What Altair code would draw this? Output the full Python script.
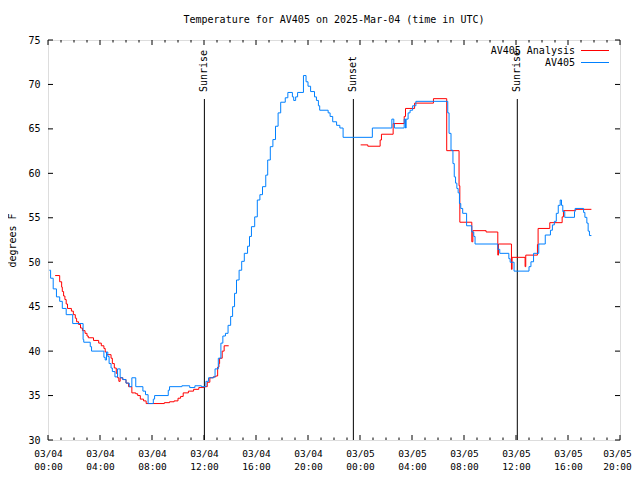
import altair as alt
import pandas as pd

# Hours since 2025-03-04 00:00 UTC (step levels)
blue_hours = [0.1, 0.2, 0.4, 0.65, 0.9, 1.1, 1.4, 1.9, 2.7, 2.75, 3.25, 3.35, 4.3, 4.4, 4.5, 4.6, 4.7,
              4.85, 4.95, 5.15, 5.35, 5.55, 5.75, 6.0, 6.25, 6.45, 6.75, 7.3, 7.5, 7.7, 8.1, 8.2, 9.25,
              9.35, 10.3, 10.9, 11.3, 11.8, 12.15, 12.35, 12.75, 12.85, 13.1, 13.3, 13.45, 13.65, 13.85,
              14.05, 14.2, 14.35, 14.5, 14.7, 14.9, 15.1, 15.35, 15.5, 15.65, 15.9, 16.1, 16.3, 16.5,
              16.75, 16.9, 17.1, 17.3, 17.5, 17.7, 17.9, 18.25, 18.45, 18.8, 18.9, 19.05, 19.2, 19.65,
              19.85, 20.0, 20.2, 20.5, 20.65, 20.8, 20.9, 21.55, 21.7, 21.9, 22.2, 22.45, 22.7, 24.95,
              26.45, 26.6, 26.65, 27.4, 27.5, 27.55, 27.7, 27.85, 28.05, 28.3, 30.75, 30.85, 31.0,
              31.15, 31.25, 31.35, 31.45, 31.55, 31.65, 31.75, 31.9, 32.2, 32.6, 32.75, 32.85, 34.6,
              34.75, 35.45, 35.55, 35.85, 37.0, 37.15, 37.35, 37.75, 38.25, 38.65, 38.8, 38.95, 39.1,
              39.25, 39.4, 39.5, 39.6, 39.75, 40.5, 40.55, 41.2, 41.3, 41.45, 41.55, 41.65, 41.8]
blue_temps = [49.1, 48.2, 47.0, 46.1, 45.6, 44.8, 44.1, 43.1, 41.3, 41.0, 40.5, 40.0, 39.3, 39.0, 39.9,
              39.4, 38.6, 38.1, 37.7, 37.1, 38.0, 37.0, 36.8, 36.4, 36.0, 37.0, 36.0, 35.5, 35.1, 34.1,
              34.6, 35.0, 35.6, 36.0, 36.1, 35.9, 36.1, 36.0, 36.6, 37.0, 37.1, 38.0, 39.2, 40.9, 41.7,
              42.0, 42.9, 43.9, 45.0, 46.5, 48.0, 49.1, 50.1, 51.0, 51.8, 52.9, 54.0, 55.1, 57.0, 57.6,
              58.5, 59.8, 61.5, 63.0, 63.8, 65.3, 66.8, 68.0, 68.5, 69.1, 68.6, 68.2, 68.6, 69.1, 71.0,
              70.3, 69.8, 69.2, 68.6, 68.2, 67.6, 67.1, 66.8, 66.4, 65.8, 65.4, 65.1, 64.05, 65.1,
              66.1, 65.6, 65.1, 66.1, 65.1, 66.1, 66.8, 67.1, 67.6, 68.1, 66.8, 64.5, 62.6,
              61.1, 59.6, 58.9, 58.3, 57.8, 56.6, 56.05, 55.5, 54.1, 53.4, 52.9, 52.05, 51.45,
              51.0, 50.4, 50.0, 49.0, 49.5, 50.05, 51.0, 52.05, 53.06, 53.6, 54.2, 54.6, 55.5,
              56.4, 57.0, 56.4, 55.7, 55.05, 55.7, 56.05, 55.6, 55.05, 54.4, 53.5, 53.0, 53.0]

red1_hours = [0.55, 0.9, 1.05, 1.1, 1.2, 1.3, 1.4, 1.5, 1.8, 1.95, 2.1, 2.2, 2.35, 2.5, 2.65, 2.85, 3.0,
              3.1, 3.5, 3.9, 4.1, 4.3, 4.4, 4.5, 4.85, 4.95, 5.1, 5.25, 5.35, 5.45, 5.55, 5.75, 6.0,
              6.2, 6.45, 6.75, 6.9, 7.1, 7.35, 7.55, 8.95, 9.35, 9.7, 10.0, 10.2, 10.4, 10.8, 11.2,
              11.6, 12.0, 12.25, 12.45, 12.7, 12.9, 13.05, 13.15, 13.2, 13.4, 13.55, 13.9]
red1_temps = [48.5, 47.8, 47.2, 46.7, 46.2, 45.8, 45.3, 44.8, 44.5, 44.1, 43.7, 43.3, 43.0, 42.6, 42.3,
              42.0, 41.7, 41.5, 41.2, 40.9, 40.6, 40.3, 39.9, 39.6, 39.2, 38.6, 38.1, 37.5, 37.0, 36.6,
              37.0, 36.8, 36.4, 36.0, 35.3, 35.2, 35.0, 34.6, 34.4, 34.1, 34.2, 34.3, 34.4, 34.7, 34.9,
              35.3, 35.5, 35.7, 35.9, 36.0, 36.5, 37.0, 37.1, 37.2, 38.2, 38.6, 39.2, 40.0, 40.6, 40.6]

red2_hours = [24.05, 24.6, 25.55, 25.65, 26.55, 27.4, 27.5, 28.2, 29.65, 30.67, 31.62, 31.68, 32.6,
              32.68, 33.7, 34.6, 34.65, 35.65, 35.7, 36.7, 36.75, 37.65, 37.7, 38.6, 39.55, 39.65,
              40.5, 40.6, 41.8]
red2_temps = [63.2, 63.05, 63.75, 64.4, 65.6, 66.4, 67.3, 67.9, 68.4, 62.55, 58.6, 54.5, 52.3,
              53.55, 53.4, 50.8, 52.05, 49.2, 50.55, 49.5, 50.8, 52.0, 53.8, 54.45, 55.1, 55.8,
              55.85, 55.95, 55.95]

event_names = ["Sunrise", "Sunset", "Sunrise"]
event_hours = [12.03, 23.49, 36.1]

series_names = ["AV405 Analysis", "AV405"]
series_colors = ["#ff0000", "#0080ff"]

x_major = list(range(0, 45, 4))
x_minor = [h for h in range(0, 45) if h % 4 != 0]
y_major = list(range(30, 76, 5))

FONT = "DejaVu Sans Mono"
W, H = 572, 400

blue_df = pd.DataFrame({"h": blue_hours, "t": blue_temps})
red_df = pd.concat([
    pd.DataFrame({"h": red1_hours, "t": red1_temps, "seg": "a"}),
    pd.DataFrame({"h": red2_hours, "t": red2_temps, "seg": "b"}),
])
ev_df = pd.DataFrame({"h": event_hours, "name": event_names})
xmaj_df = pd.DataFrame({"h": x_major})
xmin_df = pd.DataFrame({"h": x_minor})
ymaj_df = pd.DataFrame({"t": y_major})

xs = alt.Scale(domain=[0, 44], nice=False, zero=False)
ys = alt.Scale(domain=[30, 75], nice=False, zero=False)

x_axis = alt.Axis(
    values=x_major, ticks=False, domain=False, grid=False, title=None,
    labelFont=FONT, labelFontSize=9.5, labelColor="black", labelPadding=8,
    labelLineHeight=13, labelOverlap=False, labelFlush=False,
    labelOffset={"condition": {"test": "datum.value >= 44", "value": -3}, "value": 0},
    labelExpr="[datum.value < 24 ? '03/04' : '03/05', "
              "(datum.value % 24 < 10 ? '0' : '') + (datum.value % 24) + ':00']",
)
y_axis = alt.Axis(
    values=y_major, ticks=False, domain=False, grid=False, title="degrees F",
    labelFont=FONT, labelFontSize=10, labelColor="black", labelPadding=8,
    titleFont=FONT, titleFontSize=10, titleFontWeight="normal", titleColor="black",
    titleX=-36, titleY=200, titleAngle=270, titleBaseline="middle", titleAlign="center",
)

blue = alt.Chart(blue_df).mark_line(interpolate="step-after", color=series_colors[1], strokeWidth=1).encode(
    x=alt.X("h:Q", scale=xs, axis=x_axis),
    y=alt.Y("t:Q", scale=ys, axis=y_axis),
)
red = alt.Chart(red_df).mark_line(interpolate="step-after", color=series_colors[0], strokeWidth=1).encode(
    x=alt.X("h:Q", scale=xs),
    y=alt.Y("t:Q", scale=ys),
    detail="seg:N",
)

ev_rule = alt.Chart(ev_df).mark_rule(color="black", strokeWidth=1).encode(
    x=alt.X("h:Q", scale=xs), y=alt.value(59), y2=alt.value(H)
)
ev_text = alt.Chart(ev_df).mark_text(angle=270, align="left", baseline="middle", font=FONT,
                                     fontSize=10, color="black").encode(
    x=alt.X("h:Q", scale=xs), y=alt.value(52), text="name:N"
)

def xticks(df, y0, y1):
    return alt.Chart(df).mark_rule(color="black", strokeWidth=1).encode(
        x=alt.X("h:Q", scale=xs), y=alt.value(y0), y2=alt.value(y1))

def yticks(x0, x1):
    return alt.Chart(ymaj_df).mark_rule(color="black", strokeWidth=1).encode(
        y=alt.Y("t:Q", scale=ys), x=alt.value(x0), x2=alt.value(x1))

ticks = [
    xticks(xmaj_df, H, H - 5), xticks(xmin_df, H, H - 2.5),
    xticks(xmaj_df, 0, 5), xticks(xmin_df, 0, 2.5),
    yticks(0, 5), yticks(W, W - 5),
]

legend_layers = []
for i, (name, col) in enumerate(zip(series_names, series_colors)):
    ly = 10.5 + 12 * i
    ldf = pd.DataFrame({"name": [name]})
    legend_layers.append(alt.Chart(ldf).mark_text(align="right", baseline="middle", font=FONT,
                                                  fontSize=10, color="black").encode(
        x=alt.value(527), y=alt.value(ly), text="name:N"))
    legend_layers.append(alt.Chart(ldf).mark_rule(color=col, strokeWidth=1).encode(
        x=alt.value(533), x2=alt.value(561), y=alt.value(ly)))

chart = alt.layer(ev_rule, ev_text, *ticks, red, blue, *legend_layers).properties(
    width=W, height=H,
    title=alt.TitleParams("Temperature for AV405 on 2025-Mar-04 (time in UTC)", font=FONT,
                          fontSize=10, fontWeight="normal", color="black", anchor="middle", offset=10),
    autosize=alt.AutoSizeParams(type="none"),
    padding={"left": 40, "top": 32, "right": 12, "bottom": 32},
).configure_view(stroke="black", strokeWidth=1).configure(background="white")

chart.save("out.html", embed_options={"renderer": "svg", "actions": False})
